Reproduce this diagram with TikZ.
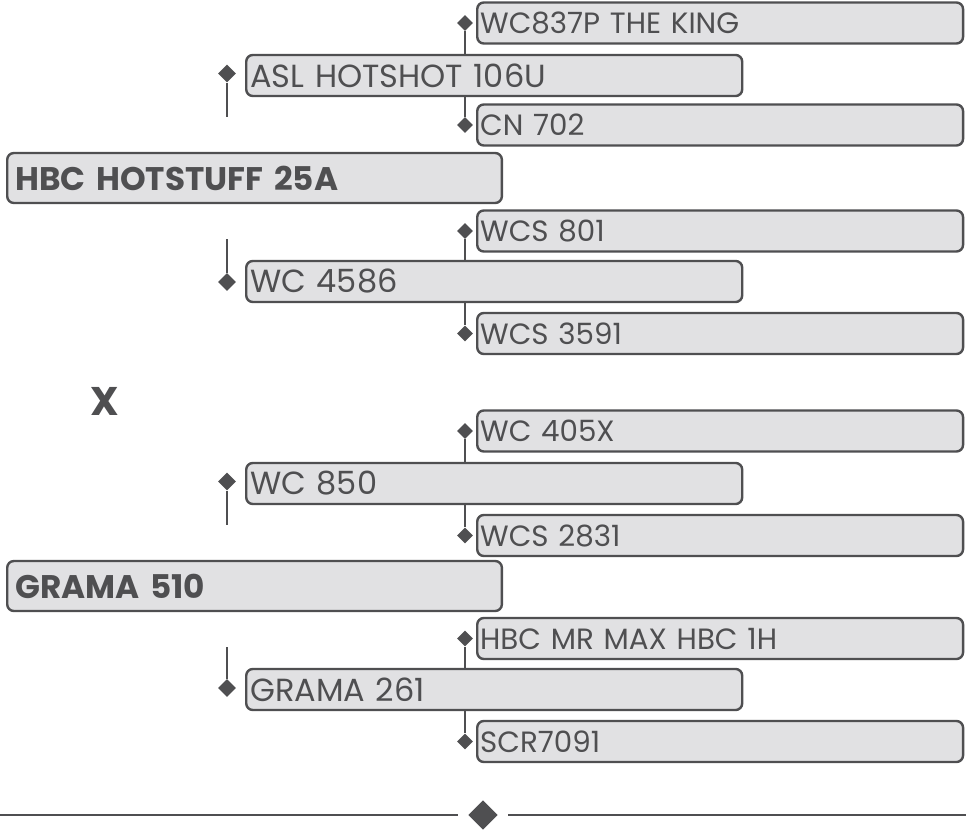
\documentclass[tikz,border=0pt]{standalone}
\usepackage{fontspec}
\setmainfont{Poppins}
\usetikzlibrary{shapes.geometric}
\definecolor{boxgray}{HTML}{E1E1E3}
\definecolor{inkgray}{HTML}{4F4F51}

\begin{document}
\begin{tikzpicture}[x=0.75pt,y=-0.75pt,
  every node/.style={text=inkgray},
  pbox/.style={draw=inkgray,fill=boxgray,line width=1.8pt,rounded corners=5pt,
    anchor=west,align=left},
  gen3/.style={pbox,inner xsep=2.2pt,text width=360pt,minimum height=30.8pt,
    font=\fontsize{22}{24}\selectfont},
  gen2/.style={pbox,inner xsep=3pt,text width=366pt,minimum height=30.8pt,
    font=\fontsize{24}{26}\selectfont},
  gen1/.style={pbox,inner xsep=6pt,text width=359pt,minimum height=37.5pt,
    font=\fontsize{24.5}{26}\selectfont\bfseries},
  dia/.style={diamond,fill=inkgray,inner sep=0pt,minimum size=12pt},
  link/.style={draw=inkgray,line width=1.5pt}]
\useasboundingbox (0,0) rectangle (966,831);
%
% first pedigree
\node[gen3] (ki) at (476,23) {WC837P THE KING};
\node[gen2] (as) at (245,75.5) {ASL HOTSHOT 106U};
\node[gen3] (cn) at (476,125) {CN 702};
\node[gen1] (hb) at (6,178) {HBC HOTSTUFF 25A};
\node[gen3] (wa) at (476,231) {WCS 801};
\node[gen2] (wb) at (245,281.5) {WC 4586};
\node[gen3] (wc) at (476,333.5) {WCS 3591};
%
\node[font=\fontsize{30}{32}\selectfont\bfseries] (cross) at (105,401) {X};
%
% second pedigree
\node[gen3] (wd) at (476,431) {WC 405X};
\node[gen2] (we) at (245,483.5) {WC 850};
\node[gen3] (wf) at (476,535.5) {WCS 2831};
\node[gen1] (gr) at (6,586) {GRAMA 510};
\node[gen3] (mx) at (476,638.5) {HBC MR MAX HBC 1H};
\node[gen2] (gs) at (245,689.5) {GRAMA 261};
\node[gen3] (sc) at (476,741.5) {SCR7091};
%
% diamonds in front of the boxes
\foreach \n/\y in {dki/23,dcn/125,dwa/231,dwc/333.5,dwd/431,dwf/535.5,dmx/638.5,dsc/741.5}{
\node[dia] (\n) at (465,\y) {};
}
\foreach \n/\y in {das/73.5,dwb/282,dwe/481.5,dgs/688}{
\node[dia,minimum size=13.5pt] (\n) at (227,\y) {};
}
%
% parent links
\draw[link] (dki) -- (dki |- as.north);
\draw[link] (as.south -| dcn) -- (dcn);
\draw[link] (dwa) -- (dwa |- wb.north);
\draw[link] (wb.south -| dwc) -- (dwc);
\draw[link] (dwd) -- (dwd |- we.north);
\draw[link] (we.south -| dwf) -- (dwf);
\draw[link] (dmx) -- (dmx |- gs.north);
\draw[link] (gs.south -| dsc) -- (dsc);
%
\coordinate (as end) at (227,117);
\coordinate (wb end) at (227,239);
\coordinate (we end) at (227,525);
\coordinate (gs end) at (227,647);
\draw[link] (das) -- (as end);
\draw[link] (wb end) -- (dwb);
\draw[link] (dwe) -- (we end);
\draw[link] (gs end) -- (dgs);
%
% rule at the bottom
\coordinate (rule a) at (0,815);
\coordinate (rule b) at (458,815);
\coordinate (rule c) at (508,815);
\coordinate (rule d) at (966,815);
\node[dia,minimum size=22pt] (rule dia) at (483,815) {};
\draw[link,line width=1.8pt] (rule a) -- (rule b);
\draw[link,line width=1.8pt] (rule c) -- (rule d);
\end{tikzpicture}
\end{document}
